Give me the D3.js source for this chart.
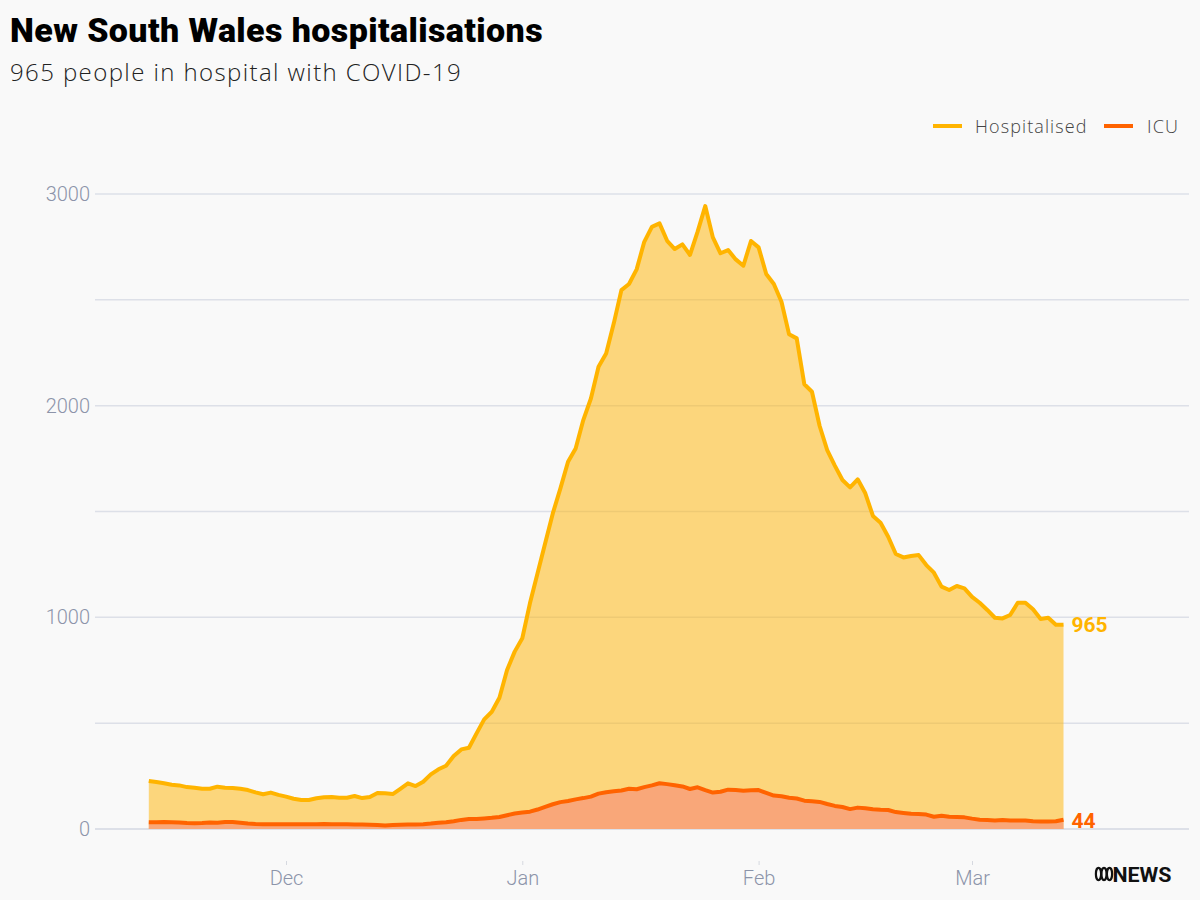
<!DOCTYPE html>
<html>
<head>
<meta charset="utf-8">
<script src="https://cdn.jsdelivr.net/npm/d3@7"></script>
<style>
  body { margin: 0; background: #f9f9f9; }
  svg { display: block; font-family: Roboto, "Noto Sans", sans-serif; }
</style>
</head>
<body>
<svg id="chart" width="1200" height="900"></svg>
<script>
// first day of the series, one value per day after that
const startDate = new Date(Date.UTC(2021, 10, 13));

const hospitalised = [
  227, 222, 216, 209, 206, 198, 195, 190, 190, 200,
  195, 194, 190, 184, 173, 164, 172, 161, 153, 143,
  137, 137, 145, 150, 151, 148, 148, 156, 146, 151,
  170, 169, 165, 190, 216, 203, 223, 258, 282, 299,
  345, 376, 384, 452, 518, 554, 620, 751, 838, 901,
  1066, 1208, 1350, 1491, 1609, 1735, 1798, 1932, 2034, 2184,
  2247, 2389, 2546, 2575, 2644, 2774, 2845, 2861, 2779, 2740,
  2762, 2712, 2822, 2943, 2795, 2720, 2735, 2691, 2661, 2778,
  2748, 2622, 2575, 2491, 2337, 2318, 2101, 2066, 1905, 1790,
  1717, 1649, 1614, 1652, 1586, 1479, 1447, 1381, 1299, 1283,
  1290, 1294, 1247, 1211, 1145, 1129, 1148, 1137, 1097, 1069,
  1035, 998, 995, 1011, 1069, 1069, 1038, 992, 998, 965,
  965
];

const icu = [
  32, 32, 33, 32, 31, 28, 27, 28, 31, 30,
  33, 33, 30, 26, 24, 23, 22, 22, 23, 22,
  22, 22, 23, 24, 22, 22, 22, 21, 21, 20,
  19, 17, 19, 20, 21, 21, 23, 26, 30, 32,
  37, 43, 47, 47, 50, 53, 57, 65, 73, 78,
  82, 92, 105, 117, 127, 132, 140, 146, 153, 167,
  174, 178, 182, 190, 188, 198, 206, 216, 212, 207,
  201, 189, 197, 184, 172, 176, 186, 184, 181, 183,
  184, 171, 158, 155, 148, 144, 134, 131, 128, 118,
  109, 104, 94, 101, 98, 93, 91, 90, 80, 76,
  72, 71, 68, 58, 63, 58, 57, 55, 49, 44,
  42, 40, 42, 40, 40, 40, 37, 36, 36, 37,
  44
];

const gridValues = [0, 500, 1000, 1500, 2000, 2500, 3000];
const yLabelValues = [0, 1000, 2000, 3000];
const monthTicks = [
  new Date(Date.UTC(2021, 11, 1)),
  new Date(Date.UTC(2022, 0, 1)),
  new Date(Date.UTC(2022, 1, 1)),
  new Date(Date.UTC(2022, 2, 1))
];
const seriesNames = ["Hospitalised", "ICU"];
const seriesColors = ["#ffb400", "#ff6300"];

let rows = hospitalised.map(function (h, i) {
  return { date: d3.utcDay.offset(startDate, i), hosp: h, icu: icu[i] };
});

let svg = d3.select("#chart");
let lightFont = '"Open Sans", Roboto, sans-serif';

// scales
let x = d3.scaleUtc()
  .domain([rows[0].date, rows[rows.length - 1].date])
  .range([148.8, 1063.5]);
let y = d3.scaleLinear().domain([0, 3000]).range([829, 194]);

// title block
svg.append("text")
  .attr("x", 10).attr("y", 42)
  .attr("font-size", 34).attr("font-weight", 900)
  .attr("fill", "#000")
  .style("letter-spacing", "0.4px")
  .text("New South Wales hospitalisations");
svg.append("text")
  .attr("x", 10).attr("y", 81)
  .attr("font-family", lightFont)
  .attr("font-size", 24).attr("font-weight", 300)
  .attr("fill", "#222")
  .style("letter-spacing", "1.4px")
  .text("965 people in hospital with COVID-19");

// legend
let legendX = [933, 1104];
let legendTextX = [975, 1147];
seriesNames.forEach(function (name, i) {
  svg.append("line")
    .attr("x1", legendX[i]).attr("x2", legendX[i] + 29)
    .attr("y1", 126).attr("y2", 126)
    .attr("stroke", seriesColors[i]).attr("stroke-width", 4);
  svg.append("text")
    .attr("x", legendTextX[i]).attr("y", 132.5)
    .attr("font-family", lightFont)
    .attr("font-size", 18).attr("font-weight", 300)
    .attr("fill", "#444")
    .style("letter-spacing", "1.1px")
    .text(name);
});

// gridlines + y labels
svg.append("g")
  .selectAll("line")
  .data(gridValues)
  .join("line")
  .attr("x1", 95).attr("x2", 1189)
  .attr("y1", function (d) { return y(d); })
  .attr("y2", function (d) { return y(d); })
  .attr("stroke", "#dde0e8")
  .attr("stroke-width", function (d) { return d === 0 ? 2 : 1.5; });

svg.append("g")
  .selectAll("text")
  .data(yLabelValues)
  .join("text")
  .attr("x", 90)
  .attr("y", function (d) { return y(d); })
  .attr("dy", "0.35em")
  .attr("text-anchor", "end")
  .attr("font-size", 20).attr("font-weight", 300)
  .attr("fill", "#8c94a9")
  .text(function (d) { return d; });

// x axis
let xAxis = svg.append("g")
  .attr("transform", "translate(0,861)")
  .call(d3.axisBottom(x)
    .tickValues(monthTicks)
    .tickSize(4)
    .tickPadding(6)
    .tickFormat(d3.utcFormat("%b")));
xAxis.select(".domain").remove();
xAxis.selectAll(".tick line").attr("stroke", "#d6d9e0");
xAxis.selectAll(".tick text")
  .attr("font-family", "Roboto, sans-serif")
  .attr("font-size", 20).attr("font-weight", 300)
  .attr("fill", "#8c94a9");

// areas
let hospArea = d3.area()
  .x(function (d) { return x(d.date); })
  .y0(y(0))
  .y1(function (d) { return y(d.hosp); });
let icuArea = d3.area()
  .x(function (d) { return x(d.date); })
  .y0(y(0))
  .y1(function (d) { return y(d.icu); });

svg.append("path").datum(rows)
  .attr("d", hospArea)
  .attr("fill", "#ffb400").attr("fill-opacity", 0.5);
svg.append("path").datum(rows)
  .attr("d", icuArea)
  .attr("fill", "#f9a779");

// lines
let hospLine = d3.line()
  .x(function (d) { return x(d.date); })
  .y(function (d) { return y(d.hosp); });
let icuLine = d3.line()
  .x(function (d) { return x(d.date); })
  .y(function (d) { return y(d.icu); });

svg.append("path").datum(rows)
  .attr("d", hospLine)
  .attr("fill", "none")
  .attr("stroke", seriesColors[0]).attr("stroke-width", 4)
  .attr("stroke-linejoin", "round");
svg.append("path").datum(rows)
  .attr("d", icuLine)
  .attr("fill", "none")
  .attr("stroke", seriesColors[1]).attr("stroke-width", 4)
  .attr("stroke-linejoin", "round");

// end labels
let last = rows[rows.length - 1];
svg.append("text")
  .attr("x", x(last.date) + 8).attr("y", y(last.hosp))
  .attr("dy", "0.35em")
  .attr("font-size", 21).attr("font-weight", 700)
  .attr("fill", seriesColors[0])
  .text(last.hosp);
svg.append("text")
  .attr("x", x(last.date) + 8).attr("y", y(last.icu) + 1)
  .attr("dy", "0.35em")
  .attr("font-size", 21).attr("font-weight", 700)
  .attr("fill", seriesColors[1])
  .text(last.icu);

// ABC NEWS mark
let logo = svg.append("g").attr("transform", "translate(1096,874)");
[0, 5.5, 11].forEach(function (cx) {
  logo.append("ellipse")
    .attr("cx", cx + 2.5).attr("cy", 0)
    .attr("rx", 2.6).attr("ry", 6.2)
    .attr("fill", "none").attr("stroke", "#111").attr("stroke-width", 2.2);
});
logo.append("text")
  .attr("x", 16.5).attr("y", 7.5)
  .attr("font-size", 21).attr("font-weight", 700)
  .attr("fill", "#111")
  .attr("textLength", 59).attr("lengthAdjust", "spacingAndGlyphs")
  .text("NEWS");
</script>
</body>
</html>
